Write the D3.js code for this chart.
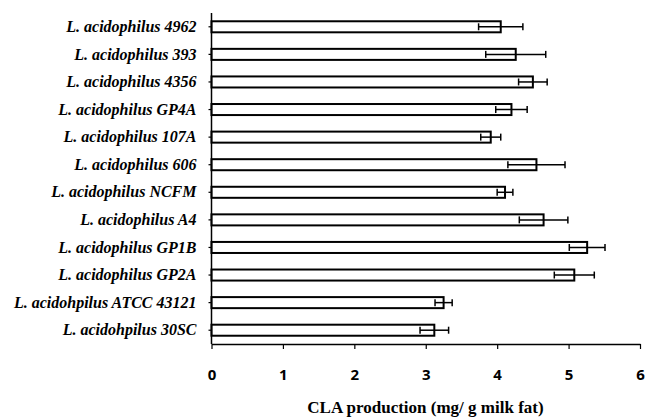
<!DOCTYPE html>
<html>
<head>
<meta charset="utf-8">
<script src="https://cdn.jsdelivr.net/npm/d3@7"></script>
<style>
  html, body { margin: 0; padding: 0; background: #fff; }
  svg { display: block; }
</style>
</head>
<body>
<svg id="chart" width="645" height="417"></svg>
<script>
// Strains, top to bottom (typos as in the original figure)
const strains = [
  "L. acidophilus 4962",
  "L. acidophilus 393",
  "L. acidophilus 4356",
  "L. acidophilus GP4A",
  "L. acidophilus 107A",
  "L. acidophilus 606",
  "L. acidophilus NCFM",
  "L. acidophilus A4",
  "L. acidophilus GP1B",
  "L. acidophilus GP2A",
  "L. acidohpilus ATCC 43121",
  "L. acidohpilus 30SC",
];
// CLA production (mg/ g milk fat), mean and error
const claMean = [4.05, 4.26, 4.50, 4.20, 3.91, 4.55, 4.11, 4.65, 5.26, 5.08, 3.25, 3.12];
const claErr  = [0.31, 0.42, 0.20, 0.22, 0.14, 0.40, 0.11, 0.34, 0.25, 0.28, 0.12, 0.20];
const xTicks = [0, 1, 2, 3, 4, 5, 6];
const xTitle = "CLA production (mg/ g milk fat)";

const svg = d3.select("#chart");

const x = d3.scaleLinear().domain([0, 6]).range([211.5, 640]);
const y = d3.scaleBand().domain(strains).range([13, 344]).paddingInner(0.6).paddingOuter(0.3);

// bars
const rows = svg.append("g").selectAll("g")
  .data(strains)
  .join("g");

rows.append("rect")
  .attr("x", x(0))
  .attr("y", d => y(d))
  .attr("width", (d, i) => x(claMean[i]) - x(0))
  .attr("height", y.bandwidth())
  .attr("fill", "#fff")
  .attr("stroke", "#000")
  .attr("stroke-width", 2);

// error bars
const cy = d => y(d) + y.bandwidth() / 2;
rows.append("line")
  .attr("x1", (d, i) => x(claMean[i] - claErr[i]))
  .attr("x2", (d, i) => x(claMean[i] + claErr[i]))
  .attr("y1", cy).attr("y2", cy)
  .attr("stroke", "#000").attr("stroke-width", 1.5);
[-1, 1].forEach(s => {
  rows.append("line")
    .attr("x1", (d, i) => x(claMean[i] + s * claErr[i]))
    .attr("x2", (d, i) => x(claMean[i] + s * claErr[i]))
    .attr("y1", d => cy(d) - 3.5).attr("y2", d => cy(d) + 3.5)
    .attr("stroke", "#000").attr("stroke-width", 1.5);
});

// y axis
const yAxis = svg.append("g")
  .attr("transform", `translate(${x(0)},0)`)
  .call(d3.axisLeft(y).tickSize(3).tickSizeOuter(0).tickPadding(12));
yAxis.select(".domain").attr("stroke", "#000").attr("stroke-width", 1.5)
  .attr("d", `M0,13V344`);
yAxis.selectAll(".tick line").attr("stroke", "#000").attr("stroke-width", 1.2);
yAxis.selectAll("text")
  .attr("font-family", "'Liberation Serif', 'Times New Roman', serif")
  .attr("font-style", "italic")
  .attr("font-weight", "bold")
  .attr("font-size", "16px")
  .attr("fill", "#000");

// x axis
const xAxis = svg.append("g")
  .attr("transform", "translate(0,344)")
  .call(d3.axisBottom(x).tickValues(xTicks).tickFormat(d3.format("d")).tickSize(5).tickSizeOuter(0).tickPadding(20));
xAxis.select(".domain").attr("stroke", "#000").attr("stroke-width", 1.5);
xAxis.selectAll(".tick line").attr("stroke", "#000").attr("stroke-width", 1.2);
xAxis.selectAll("text")
  .attr("font-family", "'Noto Sans', 'DejaVu Sans', sans-serif")
  .attr("font-weight", "bold")
  .attr("font-size", "15px")
  .attr("fill", "#000");

// x title
svg.append("text")
  .attr("x", 425.5)
  .attr("y", 413)
  .attr("text-anchor", "middle")
  .attr("font-family", "'Liberation Serif', 'Times New Roman', serif")
  .attr("font-weight", "bold")
  .attr("font-size", "17px")
  .text(xTitle);
</script>
</body>
</html>
